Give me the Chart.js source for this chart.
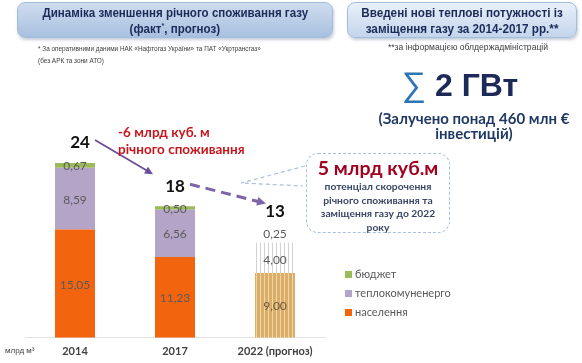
<!DOCTYPE html>
<html>
<head>
<meta charset="utf-8">
<script src="https://cdn.jsdelivr.net/npm/chart.js@4.4.1/dist/chart.umd.min.js"></script>
<style>
  html, body { margin: 0; padding: 0; background: #fff; }
  body { width: 582px; height: 363px; position: relative; overflow: hidden; font-family: Lato, "Open Sans", sans-serif; }
  #wrap { position: absolute; left: 0; top: 0; width: 582px; height: 365px; }
  .abs { position: absolute; }
  .titlebox {
    position: absolute; top: 2px; height: 36px; border-radius: 8px;
    border: 1px solid #a3bddc; box-shadow: 1px 2px 3px rgba(90,110,140,0.35);
    font-family: "Liberation Sans", Arial, sans-serif;
    font-weight: bold; font-size: 13px; line-height: 16px; color: #1c2a58;
    text-align: center; box-sizing: border-box; padding-top: 2px;
  }
  .titlebox span { display: inline-block; white-space: nowrap; }
  #t1 { left: 17px; width: 316px; background: linear-gradient(#cfdcee, #a8c0e0); }
  #t1 span { transform: scaleX(0.89); }
  #t2 { left: 347px; width: 230px; background: linear-gradient(#e9f0f9, #c3d5ec); }
  #t2 span { transform: scaleX(0.9); }
  .note { font-family: "Liberation Sans", sans-serif; color: #404040; white-space: nowrap; }
  #legend div { position: absolute; left: 0; white-space: nowrap; font-size: 11px; color: #595959; line-height: 12px; }
  #legend span { display: inline-block; width: 7px; height: 7px; margin-right: 3px; vertical-align: 0px; }
  #callout {
    position: absolute; left: 306px; top: 153px; width: 144px; height: 80px; box-sizing: border-box;
    border: 1.3px dashed #a9bfdc; border-radius: 12px; text-align: center;
  }
</style>
</head>
<body>
<div id="wrap"><canvas id="chart"></canvas></div>

<div class="titlebox" id="t1"><span>Динаміка зменшення річного споживання газу</span><br><span>(факт<sup style="font-size:8px;line-height:0;">*</sup>, прогноз)</span></div>
<div class="titlebox" id="t2"><span>Введені нові теплові потужності із</span><br><span>заміщення газу за 2014-2017 рр.**</span></div>

<div class="abs note" style="left:38px;top:43px;font-size:8px;line-height:12px;transform:scaleX(0.8);transform-origin:0 0;">* За оперативними даними НАК «Нафтогаз України» та ПАТ «Укртрансгаз»<br>(без АРК та зони АТО)</div>
<div class="abs note" style="left:368px;top:42px;width:200px;text-align:center;font-size:8.6px;">**за інформацією облдержадміністрацій</div>

<div class="abs" style="left:347px;top:64px;width:226px;text-align:center;font-family:'Liberation Sans',Arial,sans-serif;font-weight:bold;font-size:32px;line-height:40px;color:#1c2a58;"><span style="color:#2e75b6;font-weight:normal;font-size:34px;">∑</span> 2 ГВт</div>
<div class="abs" style="left:364px;top:111px;width:220px;text-align:center;font-weight:bold;font-size:15px;line-height:15px;color:#1f3864;">(Залучено понад 460 млн €<br>інвестицій)</div>

<div class="abs" style="left:118px;top:124px;font-weight:bold;font-size:13.5px;line-height:17px;color:#c4161c;">-6 млрд куб. м<br>річного споживання</div>

<svg class="abs" style="left:0;top:0;" width="582" height="363">
  <polyline points="305,166 241,183 303,186" fill="none" stroke="#a9bfdc" stroke-width="1.2" stroke-dasharray="4,3"/>
</svg>
<div id="callout">
  <div style="font-weight:bold;font-size:19.5px;line-height:22px;color:#a3001f;margin-top:3px;">5 млрд куб.м</div>
  <div style="font-weight:bold;font-size:10.3px;line-height:13.7px;color:#3a4866;margin-top:1px;">потенціал скорочення<br>річного споживання та<br>заміщення газу до 2022<br>року</div>
</div>

<div id="legend" class="abs" style="left:345px;top:268px;"></div>
<div class="abs note" style="left:5px;top:346px;font-size:8px;">млрд м³</div>

<script>
// categories and values (bln m3)
const years = ['2014', '2017', '2022 (прогноз)'];
const households = [15.05, 11.23, 9.00];
const heating = [8.59, 6.56, 4.00];
const budget = [0.67, 0.50, 0.25];
const totals = [24, 18, 13];
const seriesNames = ['населення', 'теплокомуненерго', 'бюджет'];
const forecastIndex = 2;

const colors = ['#f3640f', '#b4a4c8', '#9bbb59'];

function stripes(base, line) {
  const c = document.createElement('canvas');
  c.width = 4; c.height = 8;
  const g = c.getContext('2d');
  g.fillStyle = base; g.fillRect(0, 0, 4, 8);
  g.fillStyle = line; g.fillRect(0, 0, 1, 8);
  return g.createPattern(c, 'repeat');
}
const forecastFills = [stripes('#dcad69', '#eed6a8'), stripes('#ffffff', '#d2d2d2'), stripes('#ffffff', '#d2d2d2')];

function fillsFor(i) {
  return years.map((y, k) => k === forecastIndex ? forecastFills[i] : colors[i]);
}

function fmt(v) {
  return v.toFixed(2).replace('.', ',');
}

// legend, top item first
const legend = document.getElementById('legend');
[2, 1, 0].forEach((i, row) => {
  const d = document.createElement('div');
  d.style.top = (row * 19) + 'px';
  d.innerHTML = '<span style="background:' + colors[i] + '"></span>' + seriesNames[i];
  legend.appendChild(d);
});

const labelsPlugin = {
  id: 'labels',
  afterDatasetsDraw(chart) {
    const ctx = chart.ctx;
    const metas = chart.data.datasets.map((d, i) => chart.getDatasetMeta(i));
    ctx.save();
    ctx.textAlign = 'center';
    ctx.textBaseline = 'middle';
    const tops = [];
    const above = [];
    metas.forEach((meta, di) => {
      meta.data.forEach((bar, k) => {
        const v = chart.data.datasets[di].data[k];
        const h = Math.abs(bar.base - bar.y);
        let y = (bar.y + bar.base) / 2;
        if (h < 3) { y = bar.y - 9; above[k] = true; }
        ctx.font = '12px Lato, "Open Sans", sans-serif';
        ctx.fillStyle = k === forecastIndex && di === 0 ? '#6e5a3c' : '#5a5a5a';
        ctx.fillText(fmt(v), bar.x, y + 1);
        tops[k] = Math.min(tops[k] === undefined ? Infinity : tops[k], bar.y);
      });
    });
    // totals
    const pos = [];
    const xs = metas[0].data.map(b => b.x);
    ctx.font = 'bold 17px Lato, "Open Sans", sans-serif';
    ctx.fillStyle = '#111';
    totals.forEach((t, k) => {
      const y = tops[k] - (above[k] ? 31 : 20);
      const x = xs[k] + (k === 0 ? 5 : 0);
      ctx.fillText(String(t), x, y);
      pos.push({ x, y });
    });
    // arrows between totals
    function arrow(x1, y1, x2, y2, color, width, dash, head) {
      const a = Math.atan2(y2 - y1, x2 - x1);
      ctx.strokeStyle = color; ctx.fillStyle = color; ctx.lineWidth = width;
      ctx.setLineDash(dash);
      ctx.beginPath();
      ctx.moveTo(x1, y1);
      ctx.lineTo(x2 - Math.cos(a) * head * 0.8, y2 - Math.sin(a) * head * 0.8);
      ctx.stroke();
      ctx.setLineDash([]);
      ctx.beginPath();
      ctx.moveTo(x2, y2);
      ctx.lineTo(x2 - Math.cos(a - 0.45) * head, y2 - Math.sin(a - 0.45) * head);
      ctx.lineTo(x2 - Math.cos(a + 0.45) * head, y2 - Math.sin(a + 0.45) * head);
      ctx.closePath();
      ctx.fill();
    }
    arrow(pos[0].x + 15, pos[0].y - 3, pos[1].x - 22, pos[1].y - 12, '#6a4e9a', 1.8, [], 9);
    arrow(pos[1].x + 15, pos[1].y - 2, pos[2].x - 9, pos[2].y - 8, '#7d64a9', 3, [10, 6], 10);
    ctx.restore();
  }
};

new Chart(document.getElementById('chart'), {
  type: 'bar',
  data: {
    labels: years,
    datasets: [
      { label: seriesNames[0], data: households, backgroundColor: fillsFor(0) },
      { label: seriesNames[1], data: heating, backgroundColor: fillsFor(1) },
      { label: seriesNames[2], data: budget, backgroundColor: fillsFor(2) }
    ]
  },
  options: {
    responsive: true,
    maintainAspectRatio: false,
    animation: false,
    layout: { padding: { left: 25, right: 257, top: 122, bottom: 0 } },
    datasets: { bar: { barPercentage: 0.4, categoryPercentage: 1.0 } },
    plugins: { legend: { display: false }, tooltip: { enabled: false } },
    scales: {
      x: {
        stacked: true,
        grid: { display: false, drawTicks: false },
        border: { display: true, color: '#e3e3e3' },
        ticks: { color: '#404040', padding: 7, font: { family: 'Lato', size: 11, weight: 'bold' } }
      },
      y: { stacked: true, display: false, min: 0, max: 30 }
    }
  },
  plugins: [labelsPlugin]
});
</script>
</body>
</html>
